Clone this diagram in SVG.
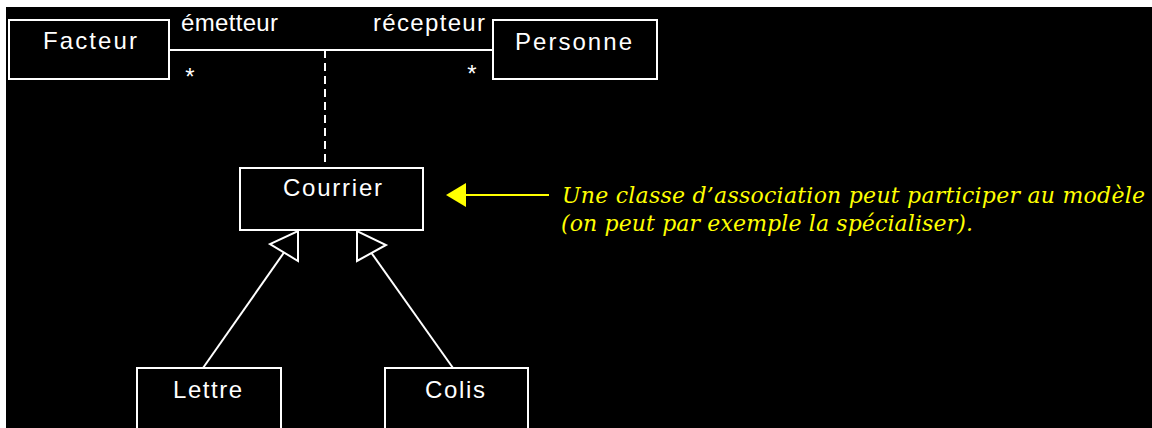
<svg xmlns="http://www.w3.org/2000/svg" width="1152" height="428" viewBox="0 0 1152 428">
<defs>
<style>
.box{fill:none;stroke:#fff;stroke-width:2}
.lbl{fill:#fff;font-family:"Liberation Sans",Arial,sans-serif;font-size:24px}
.note{fill:#ff0;font-family:"DejaVu Serif","Liberation Serif",serif;font-style:italic;font-size:22px}
.ln{stroke:#fff;stroke-width:2;fill:none}
.tri{fill:#000;stroke:#fff;stroke-width:2;stroke-linejoin:miter}
</style>
</defs>
<rect x="0" y="0" width="1152" height="428" fill="#fff"/>
<rect x="6" y="7" width="1146" height="421" fill="#000"/>
<g id="connectors">
<line class="ln" x1="169" y1="50" x2="493" y2="50"/>
<line class="ln" x1="325" y1="50" x2="325" y2="168" stroke-dasharray="8 5"/>
<line class="ln" x1="203" y1="368" x2="284" y2="252.5" stroke-width="1.5"/>
<polygon class="tri" points="298,231 298,261 270,244"/>
<line class="ln" x1="453" y1="368" x2="371.5" y2="253" stroke-width="1.5"/>
<polygon class="tri" points="357,231 357,261 386,245"/>
<text class="lbl" x="181" y="31" textLength="97" lengthAdjust="spacing">émetteur</text>
<text class="lbl" x="373" y="31" textLength="112" lengthAdjust="spacing">récepteur</text>
<text class="lbl" x="190" y="85" text-anchor="middle">*</text>
<text class="lbl" x="472" y="82" text-anchor="middle">*</text>
</g>
<g id="Facteur">
<rect class="box" x="9" y="20" width="160" height="59"/>
<text class="lbl" x="43" y="49" textLength="94" lengthAdjust="spacing">Facteur</text>
</g>
<g id="Personne">
<rect class="box" x="493" y="20" width="164" height="59"/>
<text class="lbl" x="515" y="50" textLength="117" lengthAdjust="spacing">Personne</text>
</g>
<g id="Courrier">
<rect class="box" x="240" y="168" width="183" height="62"/>
<text class="lbl" x="283" y="196" textLength="99" lengthAdjust="spacing">Courrier</text>
</g>
<g id="Lettre">
<rect class="box" x="137" y="368" width="144" height="70"/>
<text class="lbl" x="173" y="398" textLength="69" lengthAdjust="spacing">Lettre</text>
</g>
<g id="Colis">
<rect class="box" x="385" y="368" width="143" height="70"/>
<text class="lbl" x="425" y="398" textLength="60" lengthAdjust="spacing">Colis</text>
</g>
<g id="note">
<line x1="464" y1="195" x2="549" y2="195" stroke="#ff0" stroke-width="2"/>
<polygon points="446,195 466,183 466,207" fill="#ff0"/>
<text class="note" x="562" y="203" textLength="583" lengthAdjust="spacing">Une classe d’association peut participer au modèle</text>
<text class="note" x="561" y="231" textLength="412" lengthAdjust="spacing">(on peut par exemple la spécialiser).</text>
</g>
</svg>
